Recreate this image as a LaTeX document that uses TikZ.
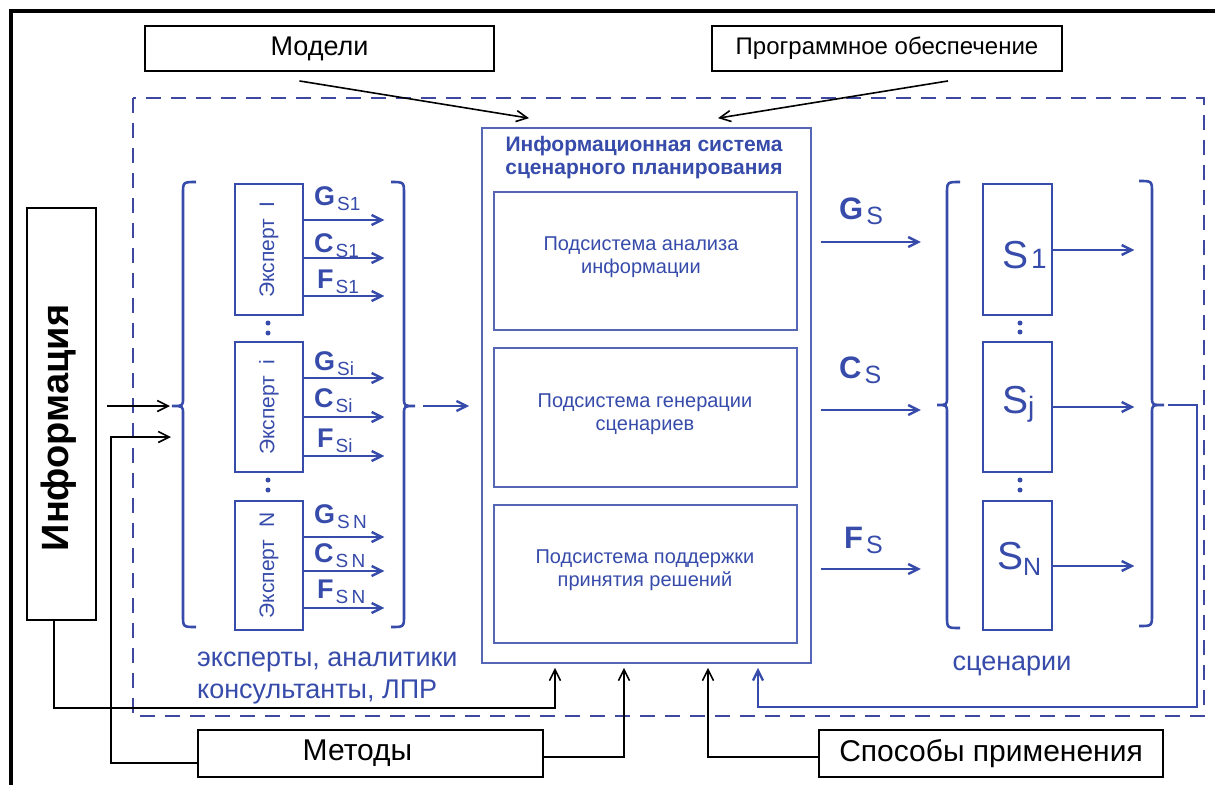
\documentclass[tikz,border=0pt]{standalone}
\usepackage{fontspec}
\usepackage{graphicx}
\setmainfont{Liberation Sans}
\usetikzlibrary{arrows.meta}
\definecolor{bl}{RGB}{55,75,170}
\definecolor{dbl}{RGB}{62,72,160}
\newcommand\fsz[2]{\fontsize{#1}{#2}\selectfont}
\newcommand\glab[2]{\textbf{#1}\hspace{2pt}\raisebox{-5pt}{\fsz{19}{19}#2}}
\newcommand\rlab[1]{\textbf{#1}\hspace{3pt}\raisebox{-5pt}{\fsz{25}{25}S}}
\begin{document}
\begin{tikzpicture}[x=1pt,y=-1pt,
  kbox/.style={draw=black,line width=1.9pt,inner sep=0pt},
  ebox/.style={draw=bl,line width=2.6pt,inner sep=0pt,text=bl,font=\fsz{21}{21}},
  sbox/.style={draw=bl!85,line width=1.7pt,inner sep=0pt},
  karr/.style={draw=black,line width=1.6pt,-{Straight Barb[length=11pt,width=11pt]}},
  barr/.style={draw=bl,line width=2.4pt,-{Straight Barb[length=10pt,width=10pt]}},
  brc/.style={draw=bl,line width=2.6pt},
  btxt/.style={text=bl,inner sep=0pt}]
\useasboundingbox[fill=white] (0,0) rectangle (1215,785);
% outer frame
\draw[line width=4pt] (11,785) -- (11,11) -- (1215,11);
% dashed area
\draw[dbl,dash pattern=on 15pt off 10pt,line width=2.8pt] (133,98) rectangle (1204,716);
% black boxes
\node[kbox,minimum width=349pt,minimum height=45pt,font=\fsz{27}{27}] (modeli) at (319.5,48.5) {Модели};
\node[kbox,minimum width=350pt,minimum height=45pt,font=\fsz{24}{24}] (po) at (887,48.5) {Программное обеспечение};
\node[kbox,minimum width=69pt,minimum height=412pt] (info) at (61.5,414) {};
\node[inner sep=0pt,font=\bfseries\fsz{38}{38}] (infot) at (59,428) {\rotatebox{90}{Информация}};
\node[kbox,minimum width=345pt,minimum height=47pt,font=\fsz{30}{30}] (metody) at (370.5,753.5) {\hspace*{-26pt}Методы};
\node[kbox,minimum width=344pt,minimum height=47pt,font=\fsz{30}{30}] (sposoby) at (991,753.5) {Способы применения};
% information system
\node[sbox,minimum width=329pt,minimum height=535pt] (is) at (646.5,395.5) {};
\node[btxt,font=\bfseries\fsz{21}{23},align=center] (ist) at (644,158) {Информационная система\\сценарного планирования};
\node[sbox,minimum width=303pt,minimum height=138pt] (sub1) at (645.5,261) {};
\node[sbox,minimum width=303pt,minimum height=139pt] (sub2) at (645.5,417.5) {};
\node[sbox,minimum width=303pt,minimum height=138pt] (sub3) at (645.5,574) {};
\node[btxt,font=\fsz{20}{23},align=center] (sub1t) at (641,257) {Подсистема анализа\\информации};
\node[btxt,font=\fsz{20}{23},align=center] (sub2t) at (645,414) {Подсистема генерации\\сценариев};
\node[btxt,font=\fsz{20}{23},align=center] (sub3t) at (645,570) {Подсистема поддержки\\принятия решений};
% experts
\node[ebox,minimum width=68pt,minimum height=131pt] (e1) at (269,249.5) {\rotatebox{90}{Эксперт\ \ I}};
\node[ebox,minimum width=68pt,minimum height=130pt] (e2) at (269,407) {\rotatebox{90}{Эксперт\ \ i}};
\node[ebox,minimum width=68pt,minimum height=129pt] (e3) at (269,565.5) {\rotatebox{90}{Эксперт\ \ N}};
\fill[bl] (268,323) circle (2.5pt) (268,333) circle (2.5pt) (268,480) circle (2.5pt) (268,490) circle (2.5pt);
\foreach \b/\ya/\yb/\yc in {e1/220/258/296,e2/378/417/456,e3/537/571/608}{
  \foreach \y in {\ya,\yb,\yc}{\draw[barr] (\b.east |- 0,\y) -- ++(80,0);}}
\node[btxt,anchor=base west,font=\fsz{27}{27}] (g1) at (314,205) {\glab{G}{S1}};
\node[btxt,anchor=base west,font=\fsz{27}{27}] (c1) at (314,252) {\glab{C}{S1}};
\node[btxt,anchor=base west,font=\fsz{27}{27}] (f1) at (317,288) {\glab{F}{S1}};
\node[btxt,anchor=base west,font=\fsz{27}{27}] (g2) at (314,370) {\glab{G}{Si}};
\node[btxt,anchor=base west,font=\fsz{27}{27}] (c2) at (314,407) {\glab{C}{Si}};
\node[btxt,anchor=base west,font=\fsz{27}{27}] (f2) at (317,447) {\glab{F}{Si}};
\node[btxt,anchor=base west,font=\fsz{27}{27}] (g3) at (314,523) {\glab{G}{S\,N}};
\node[btxt,anchor=base west,font=\fsz{27}{27}] (c3) at (314,562) {\glab{C}{S\,N}};
\node[btxt,anchor=base west,font=\fsz{27}{27}] (f3) at (317,598) {\glab{F}{S\,N}};
% expert braces
\draw[brc] (196,182) .. controls (183,182) .. (183,194) -- (183,398) .. controls (183,406) .. (172,406) .. controls (183,406) .. (183,414) -- (183,615) .. controls (183,627) .. (196,627);
\coordinate (lbtip) at (172,406);
\draw[brc] (391,182) .. controls (404,182) .. (404,194) -- (404,398) .. controls (404,406) .. (415,406) .. controls (404,406) .. (404,414) -- (404,615) .. controls (404,627) .. (391,627);
\coordinate (rbtip) at (415,406);
\node[btxt,anchor=base west,font=\fsz{27}{27}] (expt1) at (197,666) {эксперты, аналитики};
\node[btxt,anchor=base west,font=\fsz{27}{27}] (expt2) at (197,698) {консультанты, ЛПР};
% scenarios
\node[ebox,minimum width=69pt,minimum height=131pt] (s1) at (1017.5,249.5) {};
\node[ebox,minimum width=69pt,minimum height=130pt] (s2) at (1017.5,407) {};
\node[ebox,minimum width=69pt,minimum height=129pt] (s3) at (1017.5,565.5) {};
\node[btxt,anchor=base west,font=\fsz{39}{39}] (s1t) at (1002,268) {S\hspace{3pt}{\fsz{28}{28}1}};
\node[btxt,anchor=base west,font=\fsz{39}{39}] (s2t) at (1002,413) {S\raisebox{-3pt}{\fsz{28}{28}j}};
\node[btxt,anchor=base west,font=\fsz{39}{39}] (s3t) at (997,569) {S\raisebox{-6pt}{\fsz{25}{25}N}};
\fill[bl] (1020,323) circle (2.5pt) (1020,332) circle (2.5pt) (1020,480) circle (2.5pt) (1020,490) circle (2.5pt);
\draw[barr] (s1.east |- 0,250) -- ++(81,0);
\draw[barr] (s2.east |- 0,407) -- ++(81,0);
\draw[barr] (s3.east |- 0,566) -- ++(81,0);
\draw[brc] (960,182) .. controls (947,182) .. (947,194) -- (947,397) .. controls (947,405) .. (937,405) .. controls (947,405) .. (947,413) -- (947,616) .. controls (947,628) .. (960,628);
\coordinate (lstip) at (937,405);
\draw[brc] (1139,181) .. controls (1152,181) .. (1152,193) -- (1152,397) .. controls (1152,405) .. (1164,405) .. controls (1152,405) .. (1152,413) -- (1152,614) .. controls (1152,626) .. (1139,626);
\coordinate (rstip) at (1164,405);
\node[btxt,anchor=base,font=\fsz{27}{27}] (scen) at (1012,670) {сценарии};
% G C F outputs
\draw[barr] (is.east |- 0,242) ++(9,0) -- ++(100,0);
\draw[barr] (is.east |- 0,410) ++(9,0) -- ++(100,0);
\draw[barr] (is.east |- 0,569) ++(9,0) -- ++(100,0);
\node[btxt,anchor=base west,font=\fsz{31}{31}] (gs) at (839,219) {\rlab{G}};
\node[btxt,anchor=base west,font=\fsz{31}{31}] (cs) at (839,378) {\rlab{C}};
\node[btxt,anchor=base west,font=\fsz{31}{31}] (fs) at (844,548) {\rlab{F}};
% connectors
\draw[barr,shorten >=12pt] (rbtip) ++(8,0) -- (is.west |- rbtip);
\draw[karr,shorten >=2pt] (info.east |- lbtip) ++(10,0) -- (lbtip);
\draw[karr,shorten >=1pt] (metody.west |- 0,763) -- (111,763) -- (111,437) -- (lbtip |- 0,437);
\draw[karr] ([shift={(-20,9)}]modeli.south) -- ([shift={(-117.5,-9)}]is.north);
\draw[karr] ([shift={(61,9)}]po.south) -- ([shift={(71.5,-9)}]is.north);
\draw[karr,shorten >=4pt] ([xshift=-7.5pt]info.south) -- ++(0,87) -| ([xshift=-91.5pt]is.south);
\draw[karr,shorten >=4pt] (metody.east |- 0,757) -| ([xshift=-22.5pt]is.south);
\draw[karr,shorten >=4pt] (sposoby.west |- 0,757) -| ([xshift=61.5pt]is.south);
\draw[barr,shorten >=4pt] (rstip) ++(4,0) -- (1197,405) -- (1197,707) -| ([xshift=111.5pt]is.south);
\end{tikzpicture}
\end{document}
